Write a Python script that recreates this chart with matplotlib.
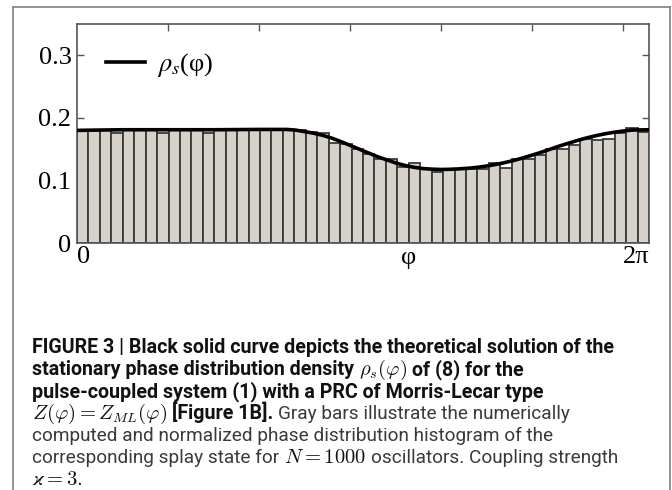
import numpy as np
import matplotlib
matplotlib.use("Agg")
import matplotlib.pyplot as plt
from matplotlib.lines import Line2D
from matplotlib.font_manager import FontProperties

# ---------------- data ----------------
n_bins = 50
bar_heights = [0.180, 0.180, 0.180, 0.175, 0.180, 0.180, 0.180, 0.175, 0.181, 0.181,
               0.181, 0.175, 0.181, 0.181, 0.181, 0.181, 0.182, 0.182, 0.181, 0.180,
               0.177, 0.175, 0.160, 0.158, 0.150, 0.143, 0.134, 0.134, 0.121, 0.1275,
               0.118, 0.114, 0.119, 0.119, 0.119, 0.119, 0.1275, 0.120, 0.135, 0.134,
               0.140, 0.150, 0.150, 0.157, 0.167, 0.165, 0.167, 0.175, 0.184, 0.177]

curve_phi = [0.0, 0.5, 1.0, 1.5, 2.0, 2.3, 2.4, 2.5, 2.6, 2.7, 2.8, 2.9, 3.0, 3.1, 3.2,
             3.3, 3.4, 3.5, 3.6, 3.7, 3.8, 3.9, 4.0, 4.1, 4.2, 4.3, 4.4, 4.5, 4.6, 4.7,
             4.8, 4.9, 5.0, 5.1, 5.2, 5.3, 5.4, 5.5, 5.6, 5.7, 5.8, 5.9, 6.0, 6.1, 6.2832]
curve_rho = [0.180, 0.181, 0.181, 0.181, 0.1815, 0.1815, 0.1805, 0.178, 0.1755, 0.172,
             0.1675, 0.162, 0.156, 0.150, 0.144, 0.138, 0.133, 0.128, 0.124, 0.121,
             0.119, 0.118, 0.1175, 0.1178, 0.1185, 0.1195, 0.121, 0.123, 0.1255, 0.1285,
             0.132, 0.136, 0.1405, 0.145, 0.150, 0.155, 0.1595, 0.164, 0.168, 0.1715,
             0.1745, 0.177, 0.179, 0.1805, 0.181]

y_ticks = [0, 0.1, 0.2, 0.3]
y_ticklabels = ["0", "0.1", "0.2", "0.3"]
x_ticklabels = ["0", "2π"]
legend_label = r"$\rho_s$(φ)"

# ---------------- figure ----------------
W, H = 672, 490
fig = plt.figure(figsize=(W / 100, H / 100), dpi=100)

ax_l, ax_r, ax_t, ax_b = 77, 649, 24, 243
ax = fig.add_axes([ax_l / W, 1 - ax_b / H, (ax_r - ax_l) / W, (ax_b - ax_t) / H])

two_pi = 2 * np.pi
width = two_pi / n_bins
lefts = np.arange(n_bins) * width
ax.bar(lefts, bar_heights, width=width, align="edge", color="#d6d2ca",
       edgecolor="#3a3a3a", linewidth=1.3, zorder=2)
ax.plot(curve_phi, curve_rho, color="black", lw=2.6, zorder=3,
        solid_capstyle="butt")

ax.set_xlim(0, two_pi)
ax.set_ylim(0, 0.35)

serif = "Liberation Serif"
tick_fs = 19

for s in ax.spines.values():
    s.set_color("#555555")
    s.set_linewidth(1.2)

ax.set_yticks(y_ticks)
ax.set_yticklabels(y_ticklabels, fontfamily=serif, fontsize=tick_fs)
ax.tick_params(axis="y", direction="in", length=5, width=1, color="#555555",
               left=True, right=True, pad=4)
ax.yaxis.get_major_ticks()[0].tick1line.set_visible(False)
ax.yaxis.get_major_ticks()[0].tick2line.set_visible(False)

ax.set_xticks([0, two_pi])
ax.set_xticklabels(x_ticklabels, fontfamily=serif, fontsize=tick_fs)
ax.tick_params(axis="x", direction="in", length=0, pad=2, bottom=True, top=False)
lbls = ax.get_xticklabels()
lbls[0].set_ha("left")
lbls[1].set_ha("right")
sec = ax.secondary_xaxis("top")
sec.set_xticks([1, 2, 3, 4, 5, 6])
sec.set_xticklabels([])
sec.tick_params(direction="in", length=5, width=1, color="#555555")
sec.spines["top"].set_visible(False)

ax.text(0.579, -0.02, "φ", transform=ax.transAxes, ha="center", va="top",
        fontfamily=serif, fontsize=tick_fs)

handle = Line2D([], [], color="black", lw=2.6)
leg = ax.legend([handle], [legend_label], loc="upper left", frameon=False,
                bbox_to_anchor=(0.01, 0.985), handlelength=1.45, handletextpad=0.45,
                prop=FontProperties(family=serif, size=tick_fs, math_fontfamily="stix"))

# outer frame
frame_col = "#8a8a8a"
fig.add_artist(Line2D([13 / W, 13 / W], [0, 1 - 7 / H], color=frame_col, lw=1.3,
                      transform=fig.transFigure))
fig.add_artist(Line2D([13 / W, 670 / W], [1 - 7 / H, 1 - 7 / H], color=frame_col,
                      lw=1.3, transform=fig.transFigure))
fig.add_artist(Line2D([670 / W, 670 / W], [1 - 7 / H, 0], color=frame_col, lw=1.3,
                      transform=fig.transFigure))

# ---------------- caption ----------------
cap_fam = ["Roboto", "Liberation Sans"]
lines = [
    [("b", "FIGURE 3 | Black solid curve depicts the theoretical solution of the")],
    [("b", "stationary phase distribution density"), ("m", r"$\rho_s(\varphi)$"),
     ("b", "of (8) for the")],
    [("b", "pulse-coupled system (1) with a PRC of Morris-Lecar type")],
    [("m", r"$Z(\varphi) = Z_{ML}(\varphi)$"), ("b", "[Figure 1B]."),
     ("r", "Gray bars illustrate the numerically")],
    [("r", "computed and normalized phase distribution histogram of the")],
    [("r", "corresponding splay state for"), ("m", r"$N = 1000$"),
     ("r", "oscillators. Coupling strength")],
    [("m", r"$\varkappa = 3.$")],
]
fig.canvas.draw()
renderer = fig.canvas.get_renderer()

def make_styles(fs):
    return {
        "b": dict(fontfamily=cap_fam, fontweight="bold", color="#111111", fontsize=fs),
        "r": dict(fontfamily=cap_fam, fontweight="normal", color="#3a3a3a", fontsize=fs * 0.97),
        "m": dict(color="#111111", math_fontfamily="cm", fontsize=fs * 1.05),
    }

# fit caption size so the first line spans the reference width
target_w = 583
trial = 13.0
probe = fig.text(0, 0, lines[0][0][1], **make_styles(trial)["b"])
w_trial = probe.get_window_extent(renderer).width
probe.remove()
cap_fs = trial * target_w / w_trial
styles = make_styles(cap_fs)

space_t = fig.text(0, 0, "a a", **styles["r"])
aa_t = fig.text(0, 0, "aa", **styles["r"])
sp_w = space_t.get_window_extent(renderer).width - aa_t.get_window_extent(renderer).width
space_t.remove()
aa_t.remove()

x0 = 32
base0 = 353
dy = 22.0
for i, runs in enumerate(lines):
    x = x0
    yb = base0 + i * dy
    for j, (st, txt) in enumerate(runs):
        t = fig.text(x / W, 1 - yb / H, txt, ha="left", va="baseline", **styles[st])
        w = t.get_window_extent(renderer).width
        x += w + sp_w

fig.savefig("out.png", dpi=100)
